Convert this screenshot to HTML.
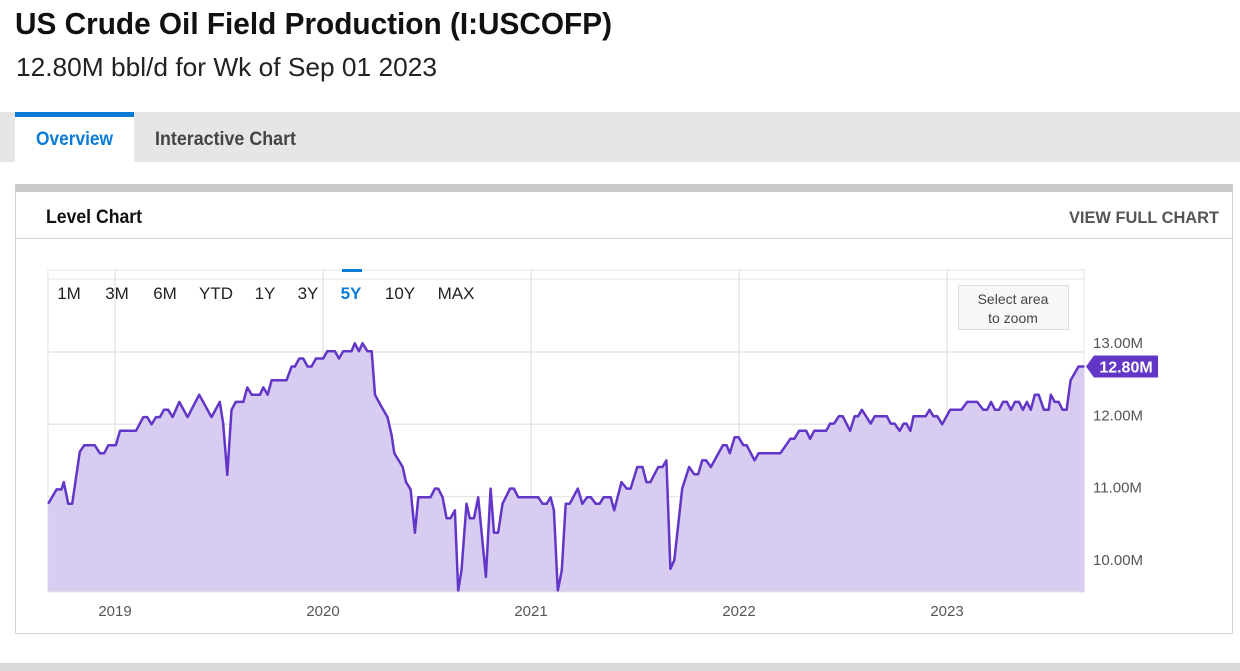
<!DOCTYPE html>
<html><head><meta charset="utf-8"><style>
html,body{margin:0;padding:0;background:#fff;width:1240px;height:671px;overflow:hidden}
svg{display:block;font-family:"Liberation Sans",sans-serif}
</style></head><body>
<svg id="root" width="1240" height="671" viewBox="0 0 1240 671">
<text x="15" y="34" font-size="31" font-weight="bold" fill="#111" textLength="597" lengthAdjust="spacingAndGlyphs">US Crude Oil Field Production (I:USCOFP)</text>
<text x="16" y="76" font-size="26" fill="#222" textLength="421" lengthAdjust="spacingAndGlyphs">12.80M bbl/d for Wk of Sep 01 2023</text>
<rect x="0" y="112" width="1240" height="50" fill="#e6e6e6"/>
<g><rect x="15" y="112" width="119" height="51" fill="#fff"/><rect x="15" y="112" width="119" height="5" fill="#0b7bd8"/><text x="36" y="145" font-size="19" font-weight="bold" fill="#0b7bd8" textLength="77" lengthAdjust="spacingAndGlyphs">Overview</text></g>
<text x="155" y="145" font-size="19" font-weight="bold" fill="#444" textLength="141" lengthAdjust="spacingAndGlyphs">Interactive Chart</text>
<rect x="15.5" y="184.5" width="1217" height="449" fill="#fff" stroke="#d4d4d4"/>
<rect x="15" y="184" width="1218" height="8" fill="#cbcbcb"/>
<text x="46" y="223" font-size="19" font-weight="bold" fill="#111" textLength="96" lengthAdjust="spacingAndGlyphs">Level Chart</text>
<text x="1219" y="223" font-size="17" font-weight="bold" fill="#555" text-anchor="end" textLength="150" lengthAdjust="spacingAndGlyphs">VIEW FULL CHART</text>
<line x1="16" y1="238.5" x2="1232" y2="238.5" stroke="#d4d4d4"/>
<rect x="0" y="663" width="1240" height="8" fill="#d9d9d9"/>
<g id="chart"></g>
</svg>
<script>
const years=[2018.679,2018.719,2018.743,2018.754,2018.775,2018.794,2018.831,2018.852,2018.903,2018.927,2018.948,2018.968,2019.004,2019.024,2019.101,2019.136,2019.155,2019.176,2019.197,2019.216,2019.235,2019.256,2019.277,2019.309,2019.349,2019.405,2019.464,2019.504,2019.520,2019.540,2019.560,2019.581,2019.617,2019.636,2019.657,2019.697,2019.713,2019.734,2019.753,2019.825,2019.849,2019.865,2019.886,2019.905,2019.926,2019.945,2019.966,2020.001,2020.020,2020.057,2020.077,2020.097,2020.137,2020.153,2020.173,2020.190,2020.214,2020.234,2020.250,2020.274,2020.310,2020.330,2020.343,2020.383,2020.399,2020.421,2020.442,2020.458,2020.517,2020.538,2020.554,2020.575,2020.594,2020.613,2020.634,2020.650,2020.666,2020.690,2020.706,2020.726,2020.746,2020.783,2020.806,2020.822,2020.842,2020.863,2020.899,2020.918,2020.939,2021.035,2021.056,2021.075,2021.094,2021.110,2021.129,2021.148,2021.167,2021.186,2021.225,2021.247,2021.269,2021.288,2021.311,2021.330,2021.349,2021.383,2021.400,2021.435,2021.460,2021.479,2021.511,2021.536,2021.555,2021.574,2021.612,2021.632,2021.651,2021.670,2021.689,2021.727,2021.760,2021.784,2021.804,2021.823,2021.842,2021.865,2021.922,2021.941,2021.956,2021.979,2021.998,2022.021,2022.037,2022.075,2022.094,2022.199,2022.247,2022.266,2022.289,2022.323,2022.342,2022.362,2022.419,2022.438,2022.457,2022.480,2022.499,2022.534,2022.556,2022.572,2022.591,2022.633,2022.652,2022.711,2022.729,2022.748,2022.772,2022.792,2022.805,2022.824,2022.839,2022.897,2022.916,2022.935,2022.954,2022.977,2023.015,2023.069,2023.097,2023.145,2023.174,2023.193,2023.212,2023.231,2023.250,2023.269,2023.288,2023.307,2023.327,2023.346,2023.365,2023.384,2023.403,2023.422,2023.441,2023.466,2023.489,2023.499,2023.518,2023.537,2023.556,2023.575,2023.594,2023.632,2023.661];
const production=[10.90,11.10,11.10,11.20,10.90,10.90,11.62,11.71,11.71,11.60,11.60,11.71,11.71,11.91,11.91,12.10,12.10,12.00,12.10,12.10,12.20,12.20,12.10,12.31,12.10,12.41,12.10,12.31,12.01,11.30,12.20,12.31,12.31,12.51,12.41,12.41,12.51,12.41,12.61,12.61,12.80,12.80,12.91,12.91,12.80,12.80,12.91,12.91,13.01,13.01,12.91,13.01,13.01,13.12,13.01,13.12,13.01,13.01,12.41,12.28,12.10,11.85,11.60,11.41,11.20,11.10,10.50,10.99,10.99,11.11,11.11,10.99,10.70,10.70,10.81,9.70,9.98,10.90,10.70,10.70,10.99,9.89,11.11,10.50,10.50,10.90,11.11,11.11,10.99,10.99,10.90,10.90,10.99,10.81,9.70,9.98,10.90,10.90,11.11,10.90,10.99,10.99,10.90,10.90,10.99,10.99,10.81,11.20,11.11,11.11,11.41,11.41,11.20,11.20,11.41,11.41,11.50,10.00,10.12,11.11,11.41,11.31,11.31,11.50,11.50,11.41,11.71,11.71,11.60,11.82,11.82,11.71,11.71,11.50,11.60,11.60,11.80,11.80,11.91,11.91,11.80,11.91,11.91,12.01,12.01,12.11,12.11,11.91,12.11,12.11,12.20,12.01,12.11,12.11,12.01,12.01,11.91,12.01,12.01,11.91,12.11,12.11,12.20,12.11,12.11,12.00,12.20,12.20,12.31,12.31,12.20,12.20,12.31,12.20,12.20,12.31,12.31,12.20,12.31,12.31,12.20,12.31,12.20,12.41,12.41,12.20,12.20,12.41,12.31,12.31,12.20,12.20,12.61,12.80,12.80];
const yTicks=[13,12,11,10];
const yTickLabels=["13.00M","12.00M","11.00M","10.00M"];
const xTicks=[2019,2020,2021,2022,2023];
const xTickLabels=["2019","2020","2021","2022","2023"];
const ranges=["1M","3M","6M","YTD","1Y","3Y","5Y","10Y","MAX"];
const rangeX=[69,117,165,216,265,308,351,400,456];
const lastLabel="12.80M";

const NS="http://www.w3.org/2000/svg";
const g=document.getElementById('chart');
const L=48,R=1084,T=270,B=592;
const xs=t=>115+(t-2019)*208;
const ys=v=>352+(13-v)*72.3;
function mk(tag,at,parent){const e=document.createElementNS(NS,tag);for(const k in at)e.setAttribute(k,at[k]);(parent||g).appendChild(e);return e;}

const bg=mk('rect',{x:L,y:T,width:R-L,height:B-T,fill:'#fff',stroke:'#e3e3e3'});


yTicks.forEach((v,i)=>{
  const ln=mk('line',{x1:L,x2:R,y1:ys(v),y2:ys(v),stroke:'#e6e6e6','stroke-width':1.5});
  
  
  const t=mk('text',{x:1093,y:ys(v)-4,'font-size':15,fill:'#555'});
  t.textContent=yTickLabels[i];
  
  
});
xTicks.forEach((v,i)=>{
  const ln=mk('line',{x1:xs(v),x2:xs(v),y1:T,y2:B,stroke:'#e6e6e6','stroke-width':1.5});
  
  
  const t=mk('text',{x:xs(v),y:616,'font-size':15,fill:'#555','text-anchor':'middle'});
  t.textContent=xTickLabels[i];
  
  
});
let d='';
years.forEach((t,i)=>{d+=(i?'L':'M')+xs(t).toFixed(1)+','+ys(production[i]).toFixed(1);});
const area=mk('path',{d:d+'L'+xs(years[years.length-1]).toFixed(1)+','+B+'L'+xs(years[0]).toFixed(1)+','+B+'Z',fill:'#d8ccf1'});


const line=mk('path',{d:d,fill:'none',stroke:'#6236c6','stroke-width':2.5,'stroke-linejoin':'round'});


mk('line',{x1:L,x2:R,y1:B,y2:B,stroke:'#e3e3e3'});
mk('line',{x1:L,x2:R,y1:T+9,y2:T+9,stroke:'#e6e6e6'});
ranges.forEach((r,i)=>{
  const t=mk('text',{x:rangeX[i],y:299,'font-size':17,fill:r==='5Y'?'#0b7bd8':'#222','font-weight':r==='5Y'?'bold':'normal','text-anchor':'middle'});
  t.textContent=r;
  
  
});
mk('rect',{x:342,y:269,width:20,height:3,fill:'#0b7bd8'});
const zb=mk('rect',{x:958.5,y:285.5,width:110,height:44,fill:'#f7f7f7',stroke:'#ddd'});


[['Select area',304],['to zoom',323]].forEach(p=>{const t=mk('text',{x:1013,y:p[1],'font-size':14,fill:'#444','text-anchor':'middle'});t.textContent=p[0];});
const ly=ys(production[production.length-1]);
const tag=mk('path',{d:`M1086,${ly}L1094,${ly-11}H1158V${ly+11}H1094Z`,fill:'#6236c6'});


const lt=mk('text',{x:1126,y:ly+6,'font-size':16,'font-weight':'bold',fill:'#fff','text-anchor':'middle'});
lt.textContent=lastLabel;


</script>
</body></html>
